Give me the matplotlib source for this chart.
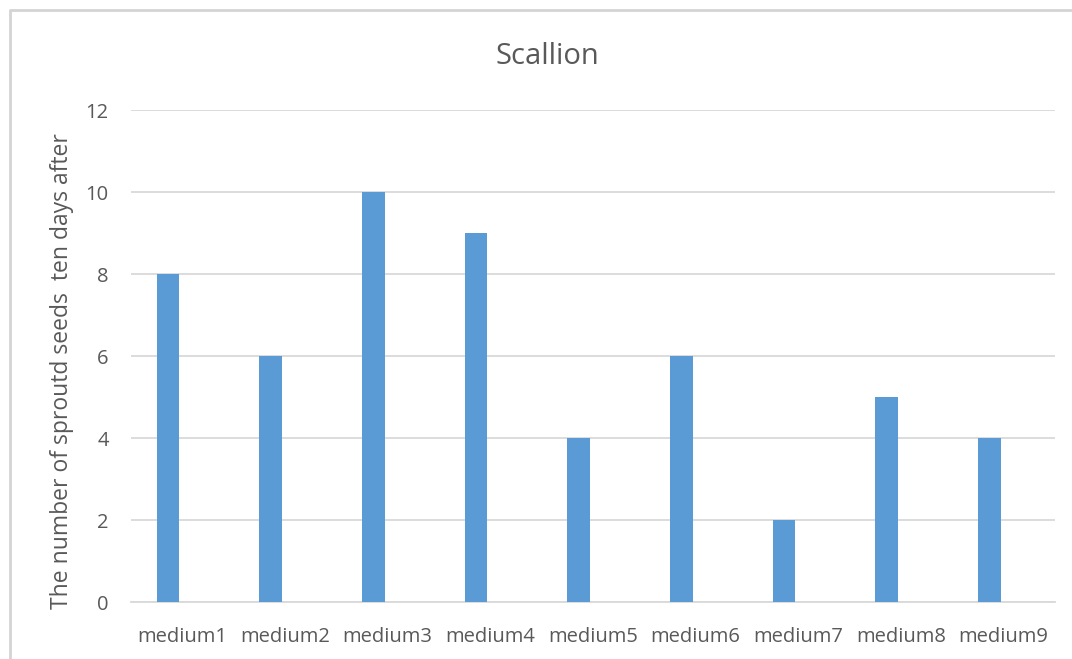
import matplotlib
matplotlib.use("Agg")
import matplotlib.pyplot as plt
import numpy as np
from matplotlib.lines import Line2D

categories = ["medium1", "medium2", "medium3", "medium4", "medium5",
              "medium6", "medium7", "medium8", "medium9"]
seeds = [8, 6, 10, 9, 4, 6, 2, 5, 4]
yticks = [0, 2, 4, 6, 8, 10, 12]

plt.rcParams['font.family'] = ['Open Sans', 'DejaVu Sans']
text_col = '#595959'
grid_col = '#D9D9D9'
bar_col = '#5B9BD5'

W, H = 1072, 659
fig = plt.figure(figsize=(W / 100, H / 100), dpi=100)
ax = fig.add_axes([131 / W, 1 - 602 / H, (1055 - 131) / W, (602 - 110) / H])

x = np.arange(len(categories))
ax.bar(x - 0.14, seeds, width=0.22, color=bar_col, zorder=3)

ax.set_xlim(-0.5, len(categories) - 0.5)
ax.set_ylim(0, 12)
ax.set_yticks(yticks)
ax.set_xticks(x)
ax.set_xticklabels(categories)
ax.yaxis.grid(True, color=grid_col, linewidth=1.3, zorder=0)
ax.set_axisbelow(True)

for s in ['top', 'right', 'left']:
    ax.spines[s].set_visible(False)
ax.spines['bottom'].set_color(grid_col)
ax.spines['bottom'].set_linewidth(1.3)
ax.tick_params(axis='both', length=0, colors=text_col, labelsize=14.5)
ax.tick_params(axis='x', pad=18)
ax.tick_params(axis='y', pad=16)

ax.set_ylabel("The number of sproutd seeds  ten days after",
              fontsize=16.5, color=text_col)
ax.yaxis.set_label_coords(-0.062, 0.47)

fig.text(547 / W, 1 - 56 / H, "Scallion", fontsize=21, color=text_col,
         ha='center', va='center')

# light frame around the chart area (left and top edges)
fig.add_artist(Line2D([10 / W, 10 / W, 1.0], [0.0, 1 - 10 / H, 1 - 10 / H],
                      transform=fig.transFigure, color='#D4D4D4', linewidth=2))

fig.savefig("out.png", dpi=100, facecolor='white')
